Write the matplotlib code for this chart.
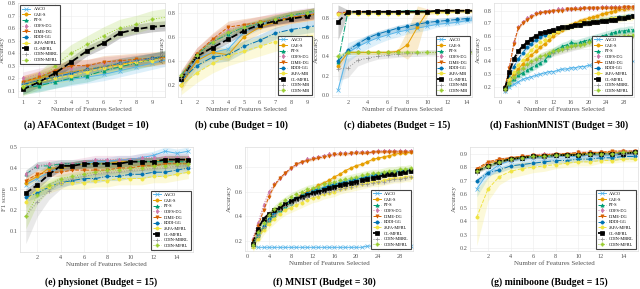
import numpy as np
import matplotlib
matplotlib.use('Agg')
import matplotlib.pyplot as plt

plt.rcParams['font.family'] = ['Liberation Serif', 'DejaVu Serif']

methods = ['AACO', 'CAE-S', 'PT-S', 'GDFS-DG', 'DIME-DG', 'EDDI-GG',
           'JAFA-MFRL', 'OL-MFRL', 'ODIN-MBRL', 'ODIN-MFRL']
short_labels = ['AACO', 'CAE-S', 'PT-S', 'GDFS-DG', 'DIME-DG', 'EDDI-GG',
                'JAFA-MB', 'OL-MFRL', 'ODIN-MB', 'ODIN-MB']
colors = ['#56b4e9', '#e69f00', '#009e73', '#cc79a7', '#d55e00', '#0072b2',
          '#f0e442', 'black', '#949494', '#9acd32']
styles = ['-', '-', '-.', ':', '--', '-.', '--', '--', ':', ':']
markers = ['x', 'o', '^', 'd', 'v', 'o', 'o', 's', '+', 'P']

# ---- (a) AFAContext
afa = [
    [0.13, 0.15, 0.17, 0.19, 0.21, 0.23, 0.26, 0.29, 0.32, 0.35],
    [0.17, 0.20, 0.23, 0.25, 0.27, 0.29, 0.31, 0.33, 0.35, 0.37],
    [0.12, 0.14, 0.17, 0.20, 0.22, 0.26, 0.29, 0.32, 0.35, 0.38],
    [0.20, 0.23, 0.26, 0.28, 0.30, 0.32, 0.33, 0.34, 0.35, 0.36],
    [0.17, 0.21, 0.26, 0.30, 0.30, 0.33, 0.34, 0.35, 0.36, 0.37],
    [0.15, 0.18, 0.21, 0.24, 0.27, 0.29, 0.32, 0.34, 0.36, 0.38],
    [0.14, 0.17, 0.20, 0.22, 0.25, 0.28, 0.30, 0.33, 0.34, 0.36],
    [0.11, 0.17, 0.24, 0.33, 0.42, 0.48, 0.56, 0.59, 0.61, 0.62],
    [0.16, 0.19, 0.22, 0.25, 0.27, 0.30, 0.32, 0.34, 0.36, 0.38],
    [0.13, 0.18, 0.30, 0.40, 0.47, 0.54, 0.60, 0.63, 0.67, 0.69],
]
afa_sd = [0.05, 0.05, 0.05, 0.05, 0.05, 0.04, 0.04, 0.04, 0.04, 0.07]

# ---- (b) cube
cube = [
    [0.25, 0.42, 0.47, 0.50, 0.64, 0.70, 0.74, 0.77, 0.79, 0.81],
    [0.20, 0.40, 0.47, 0.45, 0.60, 0.68, 0.72, 0.76, 0.78, 0.80],
    [0.28, 0.45, 0.56, 0.62, 0.68, 0.71, 0.75, 0.78, 0.80, 0.83],
    [0.27, 0.46, 0.57, 0.66, 0.69, 0.72, 0.75, 0.77, 0.79, 0.80],
    [0.27, 0.46, 0.58, 0.68, 0.70, 0.72, 0.74, 0.76, 0.78, 0.80],
    [0.24, 0.36, 0.43, 0.45, 0.52, 0.57, 0.63, 0.66, 0.68, 0.70],
    [0.20, 0.30, 0.38, 0.44, 0.48, 0.52, 0.56, 0.58, 0.60, 0.62],
    [0.25, 0.44, 0.51, 0.58, 0.65, 0.70, 0.73, 0.75, 0.77, 0.79],
    [0.26, 0.44, 0.55, 0.63, 0.67, 0.71, 0.74, 0.77, 0.79, 0.81],
    [0.28, 0.45, 0.56, 0.64, 0.68, 0.72, 0.75, 0.78, 0.80, 0.82],
]
cube_sd = [0.04, 0.05, 0.03, 0.05, 0.05, 0.05, 0.08, 0.03, 0.03, 0.03]

# ---- (c) diabetes
diab = [
    [0.05, 0.44, 0.50, 0.55, 0.59, 0.62, 0.65, 0.67, 0.69, 0.71, 0.73, 0.74, 0.75, 0.77, 0.78],
    [0.30, 0.44, 0.44, 0.44, 0.44, 0.44, 0.45, 0.52, 0.70, 0.86, 0.86, 0.87, 0.87, 0.87, 0.87],
    [0.34, 0.86, 0.86, 0.86, 0.86, 0.86, 0.86, 0.87, 0.87, 0.87, 0.87, 0.87, 0.87, 0.87, 0.87],
    [0.85, 0.86, 0.86, 0.86, 0.86, 0.86, 0.86, 0.86, 0.86, 0.87, 0.87, 0.87, 0.87, 0.87, 0.87],
    [0.84, 0.86, 0.86, 0.86, 0.86, 0.86, 0.86, 0.86, 0.86, 0.86, 0.87, 0.87, 0.87, 0.87, 0.87],
    [0.35, 0.46, 0.53, 0.59, 0.63, 0.66, 0.69, 0.71, 0.73, 0.75, 0.76, 0.77, 0.78, 0.79, 0.80],
    [0.84, 0.84, 0.84, 0.84, 0.84, 0.84, 0.84, 0.85, 0.85, 0.85, 0.85, 0.85, 0.86, 0.86, 0.86],
    [0.75, 0.86, 0.86, 0.86, 0.86, 0.86, 0.86, 0.86, 0.86, 0.86, 0.87, 0.87, 0.87, 0.87, 0.87],
    [0.27, 0.28, 0.36, 0.38, 0.40, 0.41, 0.42, 0.43, 0.43, 0.44, 0.44, 0.45, 0.45, 0.45, 0.45],
    [0.40, 0.44, 0.44, 0.44, 0.44, 0.44, 0.44, 0.44, 0.44, 0.44, 0.44, 0.44, 0.44, 0.44, 0.44],
]
diab_sd = [
    [0.05, 0.10, 0.08, 0.07, 0.06, 0.05, 0.05, 0.04, 0.04, 0.04, 0.03, 0.03, 0.03, 0.03, 0.03],
    [0.05, 0.02, 0.02, 0.02, 0.02, 0.02, 0.02, 0.15, 0.22, 0.03, 0.02, 0.02, 0.02, 0.02, 0.02],
    0.01, 0.01, 0.01, 0.03, 0.01,
    [0.18, 0.02, 0.01, 0.01, 0.01, 0.01, 0.01, 0.01, 0.01, 0.01, 0.01, 0.01, 0.01, 0.01, 0.01],
    [0.12, 0.10, 0.06, 0.04, 0.03, 0.03, 0.03, 0.03, 0.03, 0.03, 0.03, 0.03, 0.03, 0.03, 0.03],
    0.02,
]

# ---- (d) FashionMNIST
fash = [
    [0.17, 0.20, 0.22, 0.24, 0.26, 0.27, 0.28, 0.29, 0.30, 0.31, 0.32, 0.32, 0.33, 0.34, 0.34,
     0.35, 0.35, 0.36, 0.36, 0.37, 0.37, 0.38, 0.38, 0.38, 0.39, 0.39, 0.39, 0.40, 0.40, 0.40],
    [0.19, 0.25, 0.30, 0.34, 0.38, 0.42, 0.45, 0.48, 0.51, 0.54, 0.57, 0.60, 0.63, 0.65, 0.67,
     0.69, 0.70, 0.72, 0.73, 0.74, 0.75, 0.76, 0.77, 0.78, 0.79, 0.80, 0.81, 0.81, 0.82, 0.82],
    [0.18, 0.22, 0.26, 0.29, 0.31, 0.33, 0.35, 0.37, 0.39, 0.41, 0.45, 0.48, 0.50, 0.52, 0.53,
     0.55, 0.54, 0.55, 0.56, 0.57, 0.58, 0.59, 0.60, 0.61, 0.62, 0.63, 0.64, 0.64, 0.65, 0.65],
    [0.20, 0.36, 0.55, 0.67, 0.71, 0.74, 0.76, 0.78, 0.79, 0.79, 0.80, 0.80, 0.81, 0.81, 0.81,
     0.81, 0.82, 0.82, 0.82, 0.82, 0.82, 0.82, 0.83, 0.83, 0.83, 0.83, 0.83, 0.83, 0.83, 0.83],
    [0.20, 0.35, 0.54, 0.66, 0.70, 0.73, 0.75, 0.77, 0.78, 0.79, 0.79, 0.80, 0.80, 0.80, 0.81,
     0.81, 0.81, 0.81, 0.82, 0.82, 0.82, 0.82, 0.82, 0.82, 0.82, 0.82, 0.82, 0.83, 0.83, 0.83],
    [0.19, 0.28, 0.36, 0.42, 0.47, 0.51, 0.54, 0.57, 0.59, 0.61, 0.63, 0.64, 0.65, 0.66, 0.67,
     0.68, 0.69, 0.70, 0.70, 0.71, 0.72, 0.72, 0.73, 0.73, 0.74, 0.74, 0.75, 0.75, 0.76, 0.76],
    [0.19, 0.26, 0.32, 0.37, 0.41, 0.45, 0.49, 0.52, 0.55, 0.57, 0.60, 0.62, 0.64, 0.66, 0.67,
     0.68, 0.69, 0.70, 0.71, 0.71, 0.72, 0.72, 0.73, 0.73, 0.74, 0.74, 0.74, 0.75, 0.75, 0.75],
    [0.19, 0.32, 0.42, 0.48, 0.52, 0.55, 0.58, 0.60, 0.62, 0.63, 0.64, 0.65, 0.66, 0.67, 0.67,
     0.68, 0.69, 0.69, 0.70, 0.70, 0.71, 0.71, 0.72, 0.72, 0.73, 0.73, 0.74, 0.74, 0.75, 0.76],
    [0.17, 0.22, 0.27, 0.31, 0.34, 0.37, 0.39, 0.41, 0.43, 0.45, 0.46, 0.47, 0.48, 0.49, 0.50,
     0.51, 0.52, 0.53, 0.54, 0.55, 0.55, 0.56, 0.57, 0.57, 0.58, 0.58, 0.59, 0.59, 0.60, 0.60],
    [0.18, 0.23, 0.28, 0.32, 0.35, 0.38, 0.40, 0.42, 0.44, 0.45, 0.47, 0.48, 0.49, 0.50, 0.51,
     0.52, 0.53, 0.53, 0.54, 0.55, 0.56, 0.56, 0.57, 0.57, 0.58, 0.59, 0.59, 0.60, 0.60, 0.61],
]
fash_sd = [0.01, 0.02, 0.03, 0.01, 0.01, 0.02, 0.03, 0.02, 0.03, 0.03]

# ---- (e) physionet
phys = [
    [0.32, 0.35, 0.38, 0.40, 0.41, 0.42, 0.43, 0.43, 0.44, 0.44, 0.45, 0.46, 0.48, 0.47, 0.48],
    [0.33, 0.36, 0.40, 0.40, 0.41, 0.42, 0.42, 0.42, 0.43, 0.43, 0.43, 0.43, 0.44, 0.44, 0.44],
    [0.37, 0.41, 0.41, 0.42, 0.42, 0.42, 0.42, 0.42, 0.42, 0.43, 0.43, 0.43, 0.43, 0.43, 0.43],
    [0.37, 0.41, 0.42, 0.42, 0.42, 0.43, 0.44, 0.44, 0.44, 0.44, 0.45, 0.45, 0.45, 0.45, 0.45],
    [0.34, 0.37, 0.38, 0.38, 0.39, 0.39, 0.39, 0.39, 0.40, 0.40, 0.41, 0.41, 0.42, 0.42, 0.42],
    [0.26, 0.28, 0.31, 0.33, 0.34, 0.35, 0.35, 0.36, 0.36, 0.37, 0.37, 0.38, 0.38, 0.39, 0.40],
    [0.24, 0.30, 0.31, 0.33, 0.33, 0.33, 0.34, 0.34, 0.35, 0.35, 0.35, 0.36, 0.36, 0.37, 0.38],
    [0.28, 0.32, 0.37, 0.41, 0.41, 0.42, 0.42, 0.42, 0.42, 0.43, 0.43, 0.43, 0.44, 0.44, 0.44],
    [0.17, 0.24, 0.29, 0.33, 0.35, 0.36, 0.37, 0.38, 0.38, 0.39, 0.39, 0.40, 0.40, 0.41, 0.41],
    [0.17, 0.27, 0.32, 0.35, 0.36, 0.37, 0.38, 0.39, 0.39, 0.40, 0.40, 0.41, 0.41, 0.42, 0.42],
]
phys_sd = [0.02, 0.02, 0.02, 0.02, 0.02, 0.02, 0.03, 0.02,
           [0.13, 0.07, 0.04, 0.03, 0.02, 0.02, 0.02, 0.02, 0.02, 0.02, 0.02, 0.02, 0.02, 0.02, 0.02],
           [0.06, 0.04, 0.03, 0.02, 0.02, 0.02, 0.02, 0.02, 0.02, 0.02, 0.02, 0.02, 0.02, 0.02, 0.02]]

# ---- (f) MNIST
mnist = [
    [0.16, 0.15, 0.15, 0.15, 0.15, 0.15, 0.15, 0.15, 0.15, 0.15, 0.15, 0.15, 0.15, 0.15, 0.15,
     0.15, 0.15, 0.15, 0.15, 0.15, 0.15, 0.16, 0.16, 0.16, 0.16, 0.16, 0.16, 0.16, 0.16, 0.16],
    [0.17, 0.24, 0.31, 0.37, 0.42, 0.46, 0.49, 0.52, 0.55, 0.58, 0.60, 0.62, 0.65, 0.67, 0.69,
     0.72, 0.74, 0.77, 0.79, 0.81, 0.82, 0.84, 0.86, 0.87, 0.88, 0.89, 0.90, 0.91, 0.91, 0.92],
    [0.16, 0.24, 0.31, 0.37, 0.41, 0.45, 0.48, 0.51, 0.54, 0.56, 0.58, 0.60, 0.61, 0.63, 0.64,
     0.65, 0.67, 0.68, 0.69, 0.70, 0.71, 0.72, 0.73, 0.74, 0.75, 0.75, 0.76, 0.77, 0.77, 0.78],
    [0.22, 0.35, 0.49, 0.60, 0.66, 0.71, 0.75, 0.79, 0.82, 0.84, 0.86, 0.87, 0.88, 0.89, 0.90,
     0.90, 0.91, 0.91, 0.91, 0.92, 0.92, 0.92, 0.92, 0.93, 0.93, 0.93, 0.93, 0.93, 0.93, 0.93],
    [0.20, 0.32, 0.45, 0.56, 0.65, 0.71, 0.75, 0.79, 0.82, 0.84, 0.85, 0.86, 0.87, 0.88, 0.89,
     0.90, 0.90, 0.90, 0.91, 0.91, 0.91, 0.91, 0.92, 0.92, 0.92, 0.92, 0.92, 0.92, 0.92, 0.92],
    [0.17, 0.25, 0.32, 0.38, 0.43, 0.47, 0.50, 0.53, 0.55, 0.57, 0.59, 0.61, 0.62, 0.63, 0.65,
     0.66, 0.67, 0.68, 0.69, 0.70, 0.71, 0.72, 0.73, 0.74, 0.74, 0.75, 0.76, 0.76, 0.77, 0.77],
    [0.15, 0.22, 0.29, 0.34, 0.38, 0.42, 0.45, 0.47, 0.49, 0.51, 0.53, 0.55, 0.56, 0.58, 0.59,
     0.60, 0.62, 0.63, 0.64, 0.65, 0.66, 0.67, 0.68, 0.68, 0.69, 0.70, 0.71, 0.71, 0.72, 0.72],
    [0.18, 0.30, 0.38, 0.42, 0.45, 0.47, 0.50, 0.52, 0.54, 0.56, 0.57, 0.59, 0.60, 0.61, 0.63,
     0.64, 0.65, 0.66, 0.67, 0.68, 0.69, 0.70, 0.71, 0.72, 0.73, 0.74, 0.74, 0.75, 0.76, 0.77],
    [0.16, 0.24, 0.31, 0.37, 0.41, 0.45, 0.48, 0.50, 0.52, 0.54, 0.56, 0.57, 0.58, 0.59, 0.60,
     0.61, 0.62, 0.63, 0.64, 0.65, 0.66, 0.66, 0.67, 0.68, 0.68, 0.69, 0.70, 0.70, 0.71, 0.72],
    [0.17, 0.27, 0.35, 0.41, 0.46, 0.50, 0.53, 0.56, 0.58, 0.60, 0.62, 0.63, 0.64, 0.66, 0.67,
     0.68, 0.69, 0.70, 0.71, 0.72, 0.73, 0.74, 0.75, 0.75, 0.76, 0.77, 0.77, 0.78, 0.78, 0.79],
]
mnist_sd = [0.005, 0.01, 0.02, 0.01, 0.01, 0.02, 0.04, 0.02, 0.02, 0.03]

# ---- (g) miniboone
mini = [
    [0.64, 0.76, 0.82, 0.85, 0.86, 0.87, 0.87, 0.88, 0.88, 0.88, 0.89, 0.89, 0.89, 0.90, 0.90],
    [0.78, 0.83, 0.85, 0.87, 0.88, 0.88, 0.89, 0.89, 0.90, 0.90, 0.90, 0.91, 0.91, 0.91, 0.91],
    [0.77, 0.81, 0.84, 0.86, 0.87, 0.88, 0.88, 0.89, 0.89, 0.89, 0.90, 0.90, 0.90, 0.91, 0.91],
    [0.79, 0.83, 0.86, 0.87, 0.88, 0.89, 0.90, 0.90, 0.90, 0.91, 0.91, 0.91, 0.91, 0.92, 0.92],
    [0.79, 0.84, 0.86, 0.87, 0.88, 0.89, 0.89, 0.90, 0.90, 0.91, 0.91, 0.91, 0.92, 0.92, 0.92],
    [0.70, 0.76, 0.78, 0.81, 0.82, 0.83, 0.84, 0.85, 0.85, 0.86, 0.86, 0.87, 0.87, 0.88, 0.88],
    [0.43, 0.64, 0.73, 0.77, 0.79, 0.80, 0.81, 0.82, 0.83, 0.84, 0.84, 0.85, 0.85, 0.86, 0.86],
    [0.77, 0.81, 0.84, 0.86, 0.87, 0.88, 0.88, 0.89, 0.89, 0.89, 0.90, 0.90, 0.90, 0.90, 0.91],
    [0.76, 0.80, 0.83, 0.85, 0.86, 0.87, 0.87, 0.88, 0.88, 0.89, 0.89, 0.89, 0.90, 0.90, 0.90],
    [0.77, 0.81, 0.84, 0.86, 0.87, 0.88, 0.88, 0.89, 0.89, 0.89, 0.90, 0.90, 0.90, 0.91, 0.91],
]
mini_sd = [[0.06, 0.04, 0.03, 0.02, 0.02, 0.02, 0.02, 0.02, 0.02, 0.02, 0.02, 0.02, 0.02, 0.02, 0.02],
           0.01, 0.01, 0.01, 0.01, 0.02,
           [0.21, 0.09, 0.06, 0.05, 0.05, 0.04, 0.04, 0.03, 0.03, 0.03, 0.03, 0.02, 0.02, 0.02, 0.02],
           0.01, 0.01, 0.01]

panels = [
    # title, data, sd, ylabel, rect px (left, top, right, bottom), xlim, ylim, yticks, xticks, legend, labels
    ('(a) AFAContext (Budget = 10)', afa, afa_sd, 'Accuracy', (18, 3, 165, 97), (0.7, 9.8),
     (0.05, 0.8), np.arange(0.1, 0.81, 0.1), range(1, 10), 'upper left', methods),
    ('(b) cube (Budget = 10)', cube, cube_sd, 'Accuracy', (178, 3, 314, 97), (0.8, 9.45),
     (0.1, 0.88), [0.2, 0.4, 0.6, 0.8], range(1, 10), 'lower right', short_labels),
    ('(c) diabetes (Budget = 15)', diab, diab_sd, 'Accuracy', (332, 3, 472, 97), (0.4, 14.5),
     (-0.02, 0.95), [0.0, 0.2, 0.4, 0.6, 0.8], range(2, 15, 2), 'lower right', short_labels),
    ('(d) FashionMNIST (Budget = 30)', fash, fash_sd, 'Accuracy', (494, 3, 634, 97), (-1.5, 30.3),
     (0.12, 0.86), np.arange(0.2, 0.81, 0.1), range(0, 29, 4), 'lower right', methods),
    ('(e) physionet (Budget = 15)', phys, phys_sd, 'F1 score', (20, 147, 193, 252), (0.5, 15.4),
     (0.0, 0.5), [0.1, 0.2, 0.3, 0.4, 0.5], range(2, 15, 2), 'lower right', methods),
    ('(f) MNIST (Budget = 30)', mnist, mnist_sd, 'Accuracy', (245, 147, 413, 251), (-0.4, 30.4),
     (0.12, 0.96), [0.2, 0.4, 0.6, 0.8], range(0, 29, 4), 'lower right', methods),
    ('(g) miniboone (Budget = 15)', mini, mini_sd, 'Accuracy', (470, 147, 638, 251), (0.4, 15.3),
     (0.18, 0.95), np.arange(0.2, 0.91, 0.1), range(2, 15, 2), 'lower right', methods),
]

W, H = 640, 289
fig = plt.figure(figsize=(W / 100, H / 100), dpi=100)

for title, data, sd, ylab, (l, t, r, b), xlim, ylim, yt, xt, loc, labels in panels:
    ax = fig.add_axes([l / W, 1 - b / H, (r - l) / W, (b - t) / H])
    n = len(data[0])
    x = np.arange(1, n + 1)
    for i, m in enumerate(methods):
        y = np.array(data[i])
        s = np.broadcast_to(np.array(sd[i], dtype=float), y.shape)
        lw = 1.3 if m == 'OL-MFRL' else 0.7
        ax.fill_between(x, y - s, y + s, color=colors[i], alpha=0.2, lw=0)
        ax.plot(x, y, linestyle=styles[i], marker=markers[i], color=colors[i],
                lw=lw, markersize=2.3, markeredgewidth=0.5, label=labels[i])
    ax.set_xlim(*xlim)
    ax.set_ylim(*ylim)
    ax.set_yticks(yt)
    ax.set_yticklabels([f'{v:.1f}' for v in yt])
    ax.set_xticks(list(xt))
    ax.grid(color='#ececec', lw=0.4)
    ax.set_axisbelow(True)
    ax.tick_params(labelsize=4.5, length=0, pad=2, colors='#555555')
    for sp in ax.spines.values():
        sp.set_color('#dddddd')
        sp.set_linewidth(0.5)
    ax.set_xlabel('Number of Features Selected', fontsize=5, color='#555555', labelpad=1.5)
    ax.set_ylabel(ylab, fontsize=5, color='#555555', labelpad=1.5)
    leg = ax.legend(loc=loc, fontsize=3.2, handlelength=1.8, borderpad=0.4,
                    labelspacing=0.35, framealpha=1, fancybox=False)
    leg.get_frame().set_edgecolor('#444444')
    leg.get_frame().set_linewidth(0.8)
    cy = 125 if t < 100 else 282
    fig.text(((l + r) / 2 - 5) / W, 1 - cy / H, title, fontsize=7, fontweight='bold',
             ha='center', va='center')

fig.savefig('out.png', dpi=100)
